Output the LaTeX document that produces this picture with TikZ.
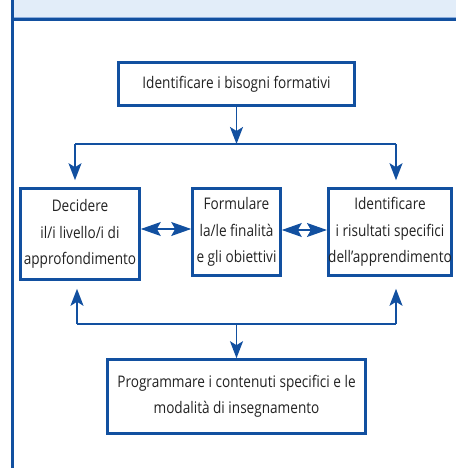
\documentclass[tikz,border=0pt]{standalone}
\usepackage{fontspec}
\setmainfont{Open Sans}[FakeStretch=0.85]
\usetikzlibrary{arrows.meta}
\definecolor{dblue}{HTML}{1250A0}
\definecolor{band}{HTML}{E2EDF9}
\definecolor{bandline}{HTML}{8CAEDD}
\definecolor{txt}{HTML}{222222}
\tikzset{
  box/.style={draw=dblue, line width=2.6pt, fill=white, align=center, text=txt,
    font=\fontsize{16}{26.5}\selectfont, inner sep=0pt},
  conn/.style={draw=dblue, line width=1.7pt},
  arr/.style={conn, -{Stealth[length=17pt,width=13pt,inset=4pt]}},
  dbl/.style={draw=dblue, line width=1.2pt, {Stealth[length=20pt,width=14pt,inset=4pt]}-{Stealth[length=20pt,width=14pt,inset=4pt]}}
}
\begin{document}
\begin{tikzpicture}[x=1pt,y=-1pt]
\useasboundingbox (0,0) rectangle (456,468);
% header band
\fill[band] (14,0) rectangle (456,18);
\fill[bandline] (14,17) rectangle (456,18.5);
\fill[dblue] (14,18.5) rectangle (456,21);
\fill[dblue] (11,0) rectangle (14,468);
% boxes
\node[box, minimum width=236pt, minimum height=43pt] (top) at (236.5,84) {Identificare i bisogni formativi};
\node[box, minimum width=119pt, minimum height=91pt] (left) at (80,234) {Decidere\\il/i livello/i di\\approfondimento};
\node[box, minimum width=88pt, minimum height=87pt] (mid) at (236.5,232) {Formulare\\la/le finalità\\e gli obiettivi};
\node[box, minimum width=123pt, minimum height=87pt] (right) at (390,232) {Identificare\\i risultati specifici\\dell’apprendimento};
\node[box, minimum width=258pt, minimum height=74pt] (bot) at (236.5,396.5) {Programmare i contenuti specifici e le\\modalità di insegnamento};
% top connectors
\coordinate (tl) at (75,144);
\coordinate (tr) at (396,144);
\draw[conn] (tl) -- (tr);
\draw[arr] (top.south) -- (top.south |- tl);
\draw[arr, shorten >=7pt] (tl) -- (tl |- left.north);
\draw[arr, shorten >=7pt] (tr) -- (tr |- right.north);
% bottom connectors
\coordinate (bl) at (77,324);
\coordinate (br) at (396,324);
\draw[conn] (bl) -- (br);
\draw[arr, shorten >=8pt] (bl) -- (bl |- left.south);
\draw[arr, shorten >=12pt] (br) -- (br |- right.south);
\draw[arr] (bot.north |- bl) -- (bot.north);
% double arrows
\draw[dbl] (left.east |- 0,229) -- (mid.west |- 0,229);
\draw[dbl] (mid.east |- 0,230) -- (right.west |- 0,230);
\end{tikzpicture}
\end{document}
